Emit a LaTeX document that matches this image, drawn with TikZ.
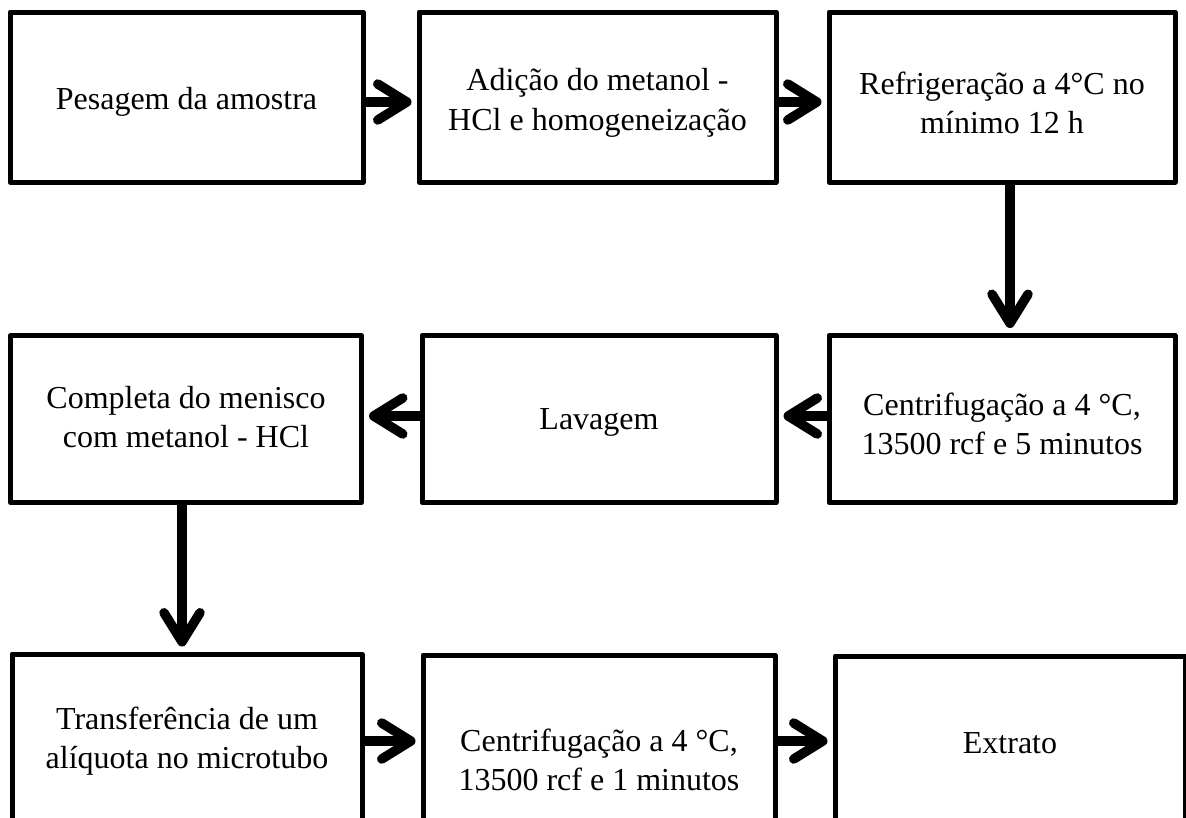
\documentclass[tikz,border=0pt]{standalone}
\usepackage{fontspec}
\setmainfont{Liberation Serif}
\usetikzlibrary{arrows.meta}
\begin{document}
\begin{tikzpicture}[x=1pt,y=-1pt,
  box/.style={draw=black, line width=5pt, fill=white, inner sep=0pt, line join=round},
  txt/.style={align=center, inner sep=0pt, font=\fontsize{32}{39.5}\selectfont},
  arr/.style={draw=black, line width=9.5pt,
    -{Straight Barb[length=29pt,width=36pt,round]}, shorten >=5pt}
]
\path[use as bounding box, clip] (0,0) rectangle (1186,817);
\fill[white] (0,0) rectangle (1186,817);
% row 1
\node[box, minimum width=353pt, minimum height=170pt,
  label={[txt,yshift=-5pt]center:{Pesagem da amostra}}] (b1) at (186.5,97) {};
\node[box, minimum width=357pt, minimum height=170pt,
  label={[txt,yshift=-6pt]center:{Adição do metanol -\\HCl e homogeneização}}] (b2) at (597.5,97) {};
\node[box, minimum width=346pt, minimum height=170pt,
  label={[txt,yshift=-6pt]center:{Refrigeração a 4°C no\\mínimo 12 h}}] (b3) at (1002,97) {};
% row 2
\node[box, minimum width=351pt, minimum height=167pt,
  label={[txt,yshift=2pt]center:{Completa do menisco\\com metanol - HCl}}] (b4) at (186,419) {};
\node[box, minimum width=354pt, minimum height=167pt,
  label={[txt,yshift=-3pt]center:{Lavagem}}] (b5) at (599,419) {};
\node[box, minimum width=346pt, minimum height=167pt,
  label={[txt,yshift=-5pt]center:{Centrifugação a 4 °C,\\13500 rcf e 5 minutos}}] (b6) at (1002,419) {};
% row 3
\node[box, minimum width=350pt, minimum height=174pt,
  label={[txt]center:{Transferência de um\\alíquota no microtubo}}] (b7) at (187,741) {};
\node[box, minimum width=352pt, minimum height=210pt,
  label={[txt]center:{Centrifugação a 4 °C,\\13500 rcf e 1 minutos}}] (b8) at (599,760) {};
\node[box, minimum width=350pt, minimum height=174pt,
  label={[txt]center:{Extrato}}] (b9) at (1010,743) {};
% connectors
\draw[arr] ([yshift=-5pt]b1.east) -- ([yshift=-5pt]b2.west);
\draw[arr] ([yshift=-5pt]b2.east) -- ([yshift=-5pt]b3.west);
\draw[arr] ([xshift=8pt]b3.south) -- ([xshift=8pt]b6.north);
\draw[arr] ([yshift=3pt]b6.west) -- ([yshift=3pt]b5.east);
\draw[arr] ([yshift=3pt]b5.west) -- ([yshift=3pt]b4.east);
\draw[arr] ([xshift=-4pt]b4.south) -- ([xshift=-4pt]b4.south |- b7.north);
\draw[arr] (b7.east) -- (b7.east -| b8.west);
\draw[arr] (b7.east -| b8.east) -- (b7.east -| b9.west);
\end{tikzpicture}
\end{document}
